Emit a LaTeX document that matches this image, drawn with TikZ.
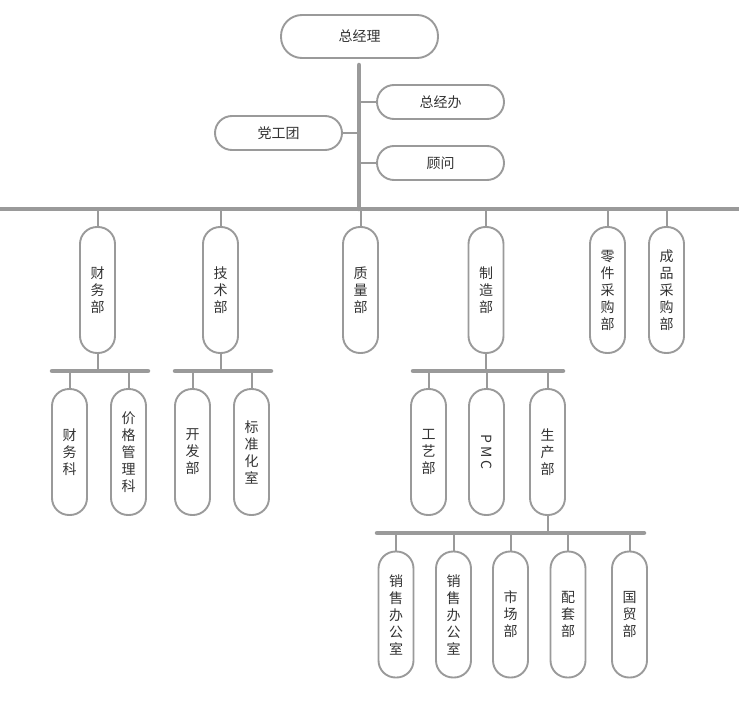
\documentclass[tikz,border=0pt]{standalone}
\usepackage{fontspec}
\setmainfont{Noto Sans CJK SC}
\usetikzlibrary{positioning, calc}
\definecolor{linegray}{HTML}{9A9A9A}
\definecolor{textgray}{HTML}{333333}

\begin{document}
\begin{tikzpicture}[
					x=1pt, y=-1pt,
					box/.style={draw=linegray, line width=1.9pt, text=textgray, font=\fontsize{14}{17}\selectfont},
					hbox/.style={box, minimum width=127pt, minimum height=34pt, rounded corners=17pt},
					vbox/.style={box, minimum width=35pt, minimum height=126pt, rounded corners=17pt, align=center},
					bar/.style={draw=linegray, line width=4.5pt, line cap=round},
					stem/.style={draw=linegray, line width=2pt}
					]
					\useasboundingbox (0,0) rectangle (739,701);
					% top
					\node[box, minimum width=157pt, minimum height=43pt, rounded corners=21pt] (zjl) at (359.5,36.5) {总经理};
					\node[hbox] (zjb) at (440.5,102) {总经办};
					\node[hbox] (gw) at (440.5,163) {顾问};
					\node[hbox] (dgt) at (278.5,133) {党工团};
					\coordinate (trunk) at (359,65);
					\coordinate (mainL) at (0,209);
					\coordinate (mainR) at (739,209);
					\draw[bar, line cap=butt] (mainL) -- (mainR);
					\draw[bar] (trunk) -- (trunk |- mainL);
					\draw[stem] (zjb.west) -- (zjb.west -| trunk);
					\draw[stem] (gw.west) -- (gw.west -| trunk);
					\draw[stem] (dgt.east) -- (dgt.east -| trunk);
					% departments
					\node[vbox] (cwb) at (97.5,290) {财\\务\\部};
					\node[vbox] (jsb) at (220.5,290) {技\\术\\部};
					\node[vbox] (zlb) at (360.5,290) {质\\量\\部};
					\node[vbox] (zzb) at (486,290) {制\\造\\部};
					\node[vbox] (ljcg) at (607.5,290) {零\\件\\采\\购\\部};
					\node[vbox] (cpcg) at (666.5,290) {成\\品\\采\\购\\部};
					\foreach \n in {cwb,jsb,zlb,zzb,ljcg,cpcg}
						\draw[stem] (\n.north) -- (\n.north |- mainL);
					% sections
					\node[vbox] (cwk) at (69.5,452) {财\\务\\科};
					\node[vbox] (jggl) at (128.5,452) {价\\格\\管\\理\\科};
					\node[vbox] (kfb) at (192.5,452) {开\\发\\部};
					\node[vbox] (bzh) at (251.5,452) {标\\准\\化\\室};
					\node[vbox] (gyb) at (428.5,452) {工\\艺\\部};
					\node[vbox] (pmc) at (486.5,452) {\rotatebox{-90}{P\hspace{3pt}M\hspace{3pt}C}};
					\node[vbox] (scb) at (547.5,452) {生\\产\\部};
					\coordinate (cwbarL) at (52,371);
					\coordinate (cwbarR) at (148,371);
					\coordinate (jsbarL) at (175,371);
					\coordinate (jsbarR) at (271,371);
					\coordinate (zzbarL) at (413,371);
					\coordinate (zzbarR) at (563,371);
					\draw[bar] (cwbarL) -- (cwbarR);
					\draw[bar] (jsbarL) -- (jsbarR);
					\draw[bar] (zzbarL) -- (zzbarR);
					\draw[stem] (cwb.south) -- (cwb.south |- cwbarL);
					\draw[stem] (jsb.south) -- (jsb.south |- jsbarL);
					\draw[stem] (zzb.south) -- (zzb.south |- zzbarL);
					\foreach \n in {cwk,jggl}
						\draw[stem] (\n.north) -- (\n.north |- cwbarL);
					\foreach \n in {kfb,bzh}
						\draw[stem] (\n.north) -- (\n.north |- jsbarL);
					\foreach \n in {gyb,pmc,scb}
						\draw[stem] (\n.north) -- (\n.north |- zzbarL);
					% production
					\node[vbox] (xs1) at (396,614.5) {销\\售\\办\\公\\室};
					\node[vbox] (xs2) at (453.5,614.5) {销\\售\\办\\公\\室};
					\node[vbox] (scbu) at (510.5,614.5) {市\\场\\部};
					\node[vbox] (ptb) at (568,614.5) {配\\套\\部};
					\node[vbox] (gmb) at (629.5,614.5) {国\\贸\\部};
					\coordinate (scbarL) at (377,533);
					\coordinate (scbarR) at (644,533);
					\draw[bar] (scbarL) -- (scbarR);
					\draw[stem] (scb.south) -- (scb.south |- scbarL);
					\foreach \n in {xs1,xs2,scbu,ptb,gmb}
						\draw[stem] (\n.north) -- (\n.north |- scbarL);
				\end{tikzpicture}
\end{document}
